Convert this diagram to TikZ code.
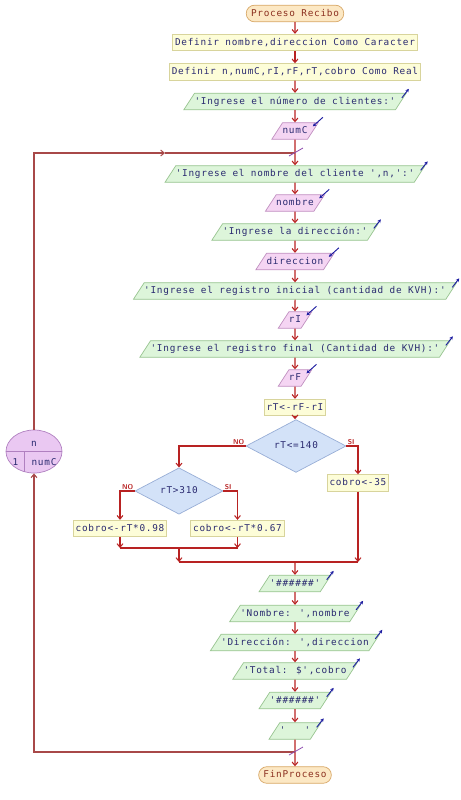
\documentclass[tikz,border=0pt]{standalone}
\usepackage{fontspec}
\newfontfamily\psfont{DejaVu Sans Mono}[LetterSpace=8]
\usetikzlibrary{shapes.geometric,shapes.misc,arrows.meta}

\definecolor{termfill}{HTML}{FCE8C4}
\definecolor{termdraw}{HTML}{D8A868}
\definecolor{termtext}{HTML}{8C3020}
\definecolor{procfill}{HTML}{FDFDD8}
\definecolor{procdraw}{HTML}{D8D49C}
\definecolor{outfill}{HTML}{DDF5DA}
\definecolor{outdraw}{HTML}{98C490}
\definecolor{infill}{HTML}{F5D5F3}
\definecolor{indraw}{HTML}{C090C0}
\definecolor{decfill}{HTML}{D3E2F8}
\definecolor{decdraw}{HTML}{98AED6}
\definecolor{cicfill}{HTML}{EAC8F2}
\definecolor{cicdraw}{HTML}{B080C0}
\definecolor{txt}{HTML}{2A2A70}
\definecolor{flujo}{HTML}{B82222}
\definecolor{lazocol}{HTML}{A84848}
\definecolor{iconcol}{HTML}{1C1CA0}
\definecolor{marcacol}{HTML}{9050B0}

\tikzset{
  base/.style={font=\psfont\fontsize{8}{9}\selectfont, text=txt, text height=6pt, text depth=1.5pt, inner xsep=2pt, inner ysep=3.35pt, line width=0.6pt},
  proc/.style={base, rectangle, draw=procdraw, fill=procfill},
  term/.style={base, rounded rectangle, draw=termdraw, fill=termfill, text=termtext, inner xsep=3pt},
  salida/.style={base, trapezium, trapezium left angle=57, trapezium right angle=123, inner xsep=0pt, draw=outdraw, fill=outfill},
  entrada/.style={base, trapezium, trapezium left angle=57, trapezium right angle=123, inner xsep=0pt, draw=indraw, fill=infill},
  decis/.style={base, diamond, draw=decdraw, fill=decfill, minimum height=0.96cm, inner sep=0pt},
  texto/.style={font=\psfont\fontsize{8}{9}\selectfont, text=txt, inner sep=0pt},
  rotulo/.style={font=\sffamily\bfseries\fontsize{6}{7}\selectfont, text=flujo, inner sep=1pt},
  flecha/.style={draw=flujo, line width=0.9pt, -{Straight Barb[length=3pt,width=5pt]}},
  linea/.style={draw=flujo, line width=0.9pt},
  lazo/.style={draw=lazocol, line width=0.9pt},
  icono/.style={draw=iconcol, line width=0.8pt},
  marca/.style={draw=marcacol, line width=0.7pt}
}

\begin{document}
\begin{tikzpicture}[x=0.03cm, y=-0.03cm]
\useasboundingbox (0,0) rectangle (461,800);

% inicio y definiciones
\node[term] (inicio) at (295,13.5) {Proceso Recibo};
\node[proc] (def1) at (295,42.5) {Definir nombre,direccion Como Caracter};
\node[proc] (def2) at (295,72) {Definir n,numC,rI,rF,rT,cobro Como Real};
\node[salida] (msgClientes) at (295,101.5) {'Ingrese el número de clientes:'};
\node[entrada] (leeNumC) at (295,131) {numC};

% cuerpo del ciclo
\coordinate (j1) at (295,153);
\node[salida] (msgNombre) at (295,174) {'Ingrese el nombre del cliente ',n,':'};
\node[entrada] (leeNombre) at (295,203) {nombre};
\node[salida] (msgDir) at (295,232) {'Ingrese la dirección:'};
\node[entrada] (leeDir) at (295,261.5) {direccion};
\node[salida] (msgRI) at (295,291) {'Ingrese el registro inicial (cantidad de KVH):'};
\node[entrada] (leeRI) at (295,320) {rI};
\node[salida] (msgRF) at (295,349) {'Ingrese el registro final (Cantidad de KVH):'};
\node[entrada] (leeRF) at (295,378) {rF};
\node[proc] (calcRT) at (295,407.5) {rT<-rF-rI};

% decisiones
\node[decis, minimum width=3cm] (cond1) at (296,446) {rT<=140};
\node[decis, minimum width=2.64cm] (cond2) at (179,491) {rT>310};
\node[proc] (cobro98) at (120,528.5) {cobro<-rT*0.98};
\node[proc] (cobro67) at (237.5,528.5) {cobro<-rT*0.67};
\node[proc] (cobro35) at (358,483) {cobro<-35};
\coordinate (k1) at (179,548);
\coordinate (k2) at (295,562);

\node[rotulo, anchor=south east] (no1) at (cond1.west) {NO};
\node[rotulo, anchor=south west] (si1) at (cond1.east) {SI};
\node[rotulo, anchor=south east] (no2) at (cond2.west) {NO};
\node[rotulo, anchor=south west] (si2) at (cond2.east) {SI};

% salidas
\node[salida] (sep1) at (295,583.5) {'\#\#\#\#\#\#'};
\node[salida] (impNombre) at (295,613.5) {'Nombre: ',nombre};
\node[salida] (impDir) at (295,642.5) {'Dirección: ',direccion};
\node[salida] (impTotal) at (295,671) {'Total: \$',cobro};
\node[salida] (sep2) at (295,700.5) {'\#\#\#\#\#\#'};
\node[salida] (blanco) at (295,731) {'\ \ \ '};
\coordinate (j2) at (295,752);
\node[term] (fin) at (295,775) {FinProceso};

% nodo del ciclo para
\node[ellipse, draw=cicdraw, fill=cicfill, line width=0.6pt, minimum width=1.68cm, minimum height=1.29cm, inner sep=0pt] (ciclo) at (34,451.5) {};
\draw[cicdraw, line width=0.6pt] (ciclo.west) -- (ciclo.east);
\draw[cicdraw, line width=0.6pt] (24,451.5) -- (24,471.5);
\node[texto] (cicVar) at (34,443.5) {n};
\node[texto] (cicIni) at (15.5,462) {1};
\node[texto] (cicFin) at (44,462) {numC};

% flujo principal
\foreach \a/\b in {inicio/def1, def1/def2, def2/msgClientes, msgClientes/leeNumC,
  leeNumC/msgNombre, msgNombre/leeNombre, leeNombre/msgDir, msgDir/leeDir,
  leeDir/msgRI, msgRI/leeRI, leeRI/msgRF, msgRF/leeRF, leeRF/calcRT,
  sep1/impNombre, impNombre/impDir, impDir/impTotal, impTotal/sep2,
  sep2/blanco, blanco/fin}
  \draw[flecha] (\a) -- (\b);
\draw[flecha] (calcRT) -- (calcRT |- cond1.north);

% ramas
\draw[flecha] (cond1.west) -| (cond2.north);
\draw[flecha] (cond1.east) -| (cobro35.north);
\draw[flecha] (cond2.west) -| (cobro98.north);
\draw[flecha] (cond2.east) -| (cobro67.north);
\draw[flecha] (cobro98.south) -- (cobro98.south |- k1);
\draw[flecha] (cobro67.south) -- (cobro67.south |- k1);
\draw[linea] (cobro98.south |- k1) -- (cobro67.south |- k1);
\draw[flecha] (k1) -- (k1 |- k2);
\draw[flecha] (cobro35.south) -- (cobro35.south |- k2);
\draw[linea] (k1 |- k2) -- (cobro35.south |- k2);
\draw[flecha] (k2) -- (sep1);

% regreso del ciclo
\coordinate (m1) at (165,153);
\draw[lazo, -{Straight Barb[length=3pt,width=5pt]}] (ciclo.north) |- (m1);
\draw[lazo] (m1) -- (j1);
\draw[lazo, -{Straight Barb[length=3pt,width=5pt]}] (j2) -| (ciclo.south);
\draw[marca] ([shift={(-6,3)}]j1) -- ++(14,-8);
\draw[marca] ([shift={(-6,3)}]j2) -- ++(14,-8);

% iconos de entrada/salida
\foreach \n in {msgClientes, msgNombre, msgDir, msgRI, msgRF, sep1, impNombre, impDir, impTotal, sep2, blanco}
  \draw[icono, -{Stealth[length=3pt,width=3pt]}] ([shift={(-5,5)}]\n.top right corner) -- ++(7,-9);
\foreach \n in {leeNumC, leeNombre, leeDir, leeRI, leeRF}
  \draw[icono, {Stealth[length=3pt,width=3pt]}-] ([shift={(-6,4)}]\n.top right corner) -- ++(10,-9);
\end{tikzpicture}
\end{document}
